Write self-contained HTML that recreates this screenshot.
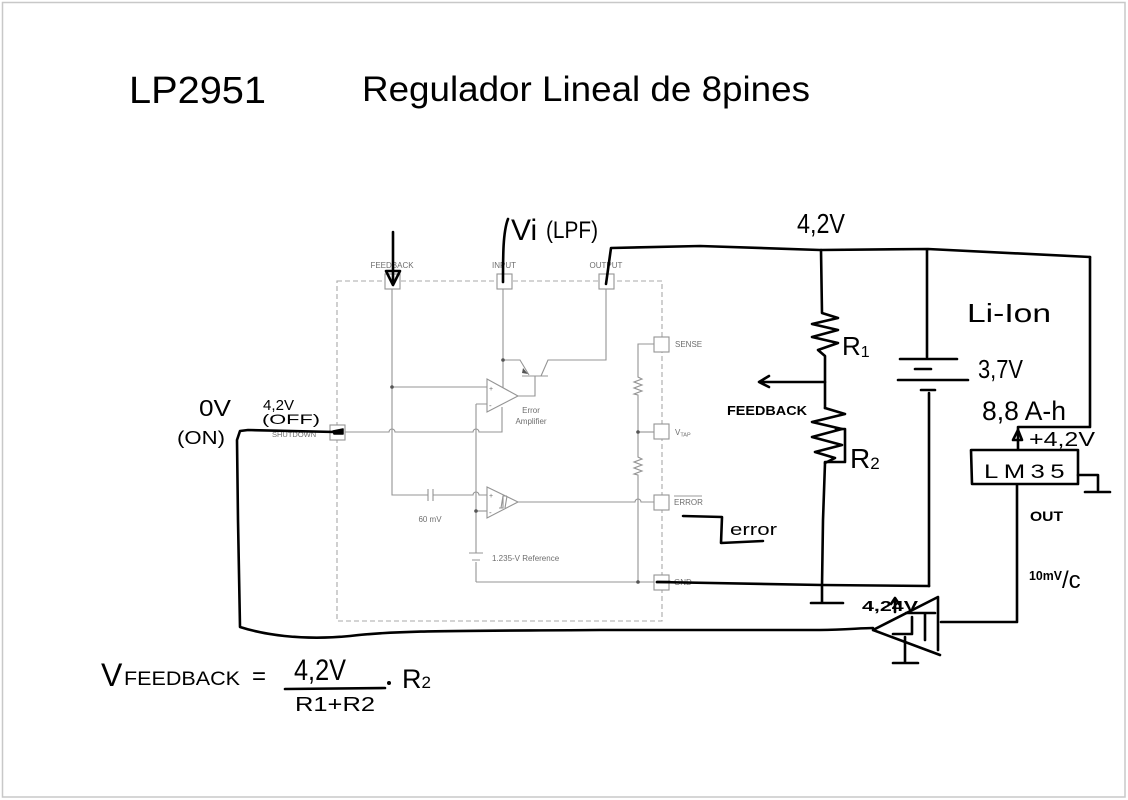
<!DOCTYPE html>
<html><head><meta charset="utf-8"><style>
html,body{margin:0;padding:0;background:#fff;}
svg{display:block;}
.g{fill:none;stroke:#949494;stroke-width:1.1;}
.gt{fill:#6e6e6e;font-family:"Liberation Sans",sans-serif;font-size:8px;}
.k{fill:none;stroke:#000;stroke-width:2.6;stroke-linecap:round;stroke-linejoin:round;}
.h{fill:#000;font-family:"Liberation Sans",sans-serif;}
</style></head><body>
<svg width="1128" height="800" viewBox="0 0 1128 800" xmlns="http://www.w3.org/2000/svg">
<rect x="0" y="0" width="1128" height="800" fill="#fff"/>
<rect x="2.5" y="2.5" width="1122.5" height="794.5" fill="none" stroke="#c8c8c8" stroke-width="1.5"/>

<!-- ===== gray schematic ===== -->
<rect x="337" y="281" width="325" height="340" fill="none" stroke="#a8a8a8" stroke-width="1.1" stroke-dasharray="5,3"/>
<g class="g">
  <path d="M392,289 V495 H428 M433,495 H473 a3,3 0 0 1 6,0 H487"/>
  <path d="M428,489 V501 M433,489 V501"/>
  <path d="M392,387 H487"/>
  <path d="M345,432 H389 a3,3 0 0 1 6,0 H473 a3,3 0 0 1 6,0 H502 V407"/>
  <path d="M503,289 V388"/>
  <path d="M503,360 H520 L529,375"/>
  <path d="M522,376 H548 M541,376 L548,360 H606 V289"/>
  <path d="M535,376 V396 H518"/>
  <path d="M487,379 L518,396 L487,412 Z"/>
  <path d="M476,404 H487 M476,404 V553 M476,562 V582"/>
  <path d="M469,553 H483 M472,560 H480"/>
  <path d="M476,511 H487"/>
  <path d="M487,487 L518,502 L487,518 Z"/>
  <path d="M499,508 H503 V496 H507 M501,508 L503,496 M505,508 L507,496"/>
  <path d="M518,502 H635 a3,3 0 0 1 6,0 H654"/>
  <path d="M654,344 H638 V377 l4,2 -8,3 8,3 -8,3 8,3 -8,3 4,1 V457 l4,2 -8,3 8,3 -8,3 8,3 -8,3 4,1 V582"/>
  <path d="M638,432 H654"/>
  <path d="M476,582 H654"/>
  <rect x="385" y="274" width="15" height="15" fill="#fff"/>
  <rect x="497" y="274" width="15" height="15" fill="#fff"/>
  <rect x="599" y="274" width="15" height="15" fill="#fff"/>
  <rect x="654" y="337" width="15" height="15" fill="#fff"/>
  <rect x="654" y="424" width="15" height="15" fill="#fff"/>
  <rect x="654" y="495" width="15" height="15" fill="#fff"/>
  <rect x="654" y="575" width="15" height="15" fill="#fff"/>
  <rect x="330" y="425" width="15" height="15" fill="#fff"/>
</g>
<g fill="#555">
  <circle cx="392" cy="387" r="1.8"/><circle cx="503" cy="360" r="1.8"/>
  <circle cx="476" cy="511" r="1.8"/><circle cx="638" cy="432" r="1.8"/>
  <circle cx="638" cy="582" r="1.8"/>
  <path d="M523,368 l5,6 -6,-1 z"/>
</g>
<g class="gt">
  <text x="392" y="268" text-anchor="middle">FEEDBACK</text>
  <text x="504" y="268" text-anchor="middle">INPUT</text>
  <text x="606" y="268" text-anchor="middle">OUTPUT</text>
  <text x="675" y="347">SENSE</text>
  <text x="675" y="435">V<tspan font-size="5.5" dy="1.5">TAP</tspan></text>
  <text x="674" y="505">ERROR</text>
  <text x="674" y="585">GND</text>
  <text x="272" y="437" font-size="7.5">SHUTDOWN</text>
  <text x="531" y="413" text-anchor="middle">Error</text>
  <text x="531" y="424" text-anchor="middle">Amplifier</text>
  <text x="430" y="522" text-anchor="middle">60 mV</text>
  <text x="492" y="561">1.235-V Reference</text>
  <text x="489" y="391" font-size="7">+</text>
  <text x="489" y="408" font-size="8">-</text>
  <text x="489" y="498" font-size="7">+</text>
  <text x="489" y="515" font-size="8">-</text>
</g>
<path d="M674,496 H702" stroke="#777" stroke-width="0.8"/>

<!-- ===== handwritten ===== -->
<text class="h" x="129" y="103" font-size="38" textLength="137" lengthAdjust="spacingAndGlyphs">LP2951</text>
<text class="h" x="362" y="101" font-size="35" textLength="448" lengthAdjust="spacingAndGlyphs">Regulador Lineal de 8pines</text>

<g class="k">
  <path d="M393,232 L393,283"/>
  <path d="M386,271 L400,271 L393,285 Z"/>
  <path d="M508,219 C503,232 503,255 503,282"/>
  <path d="M606,284 L611,248 L700,246 L820,250 L928,249 L1090,257"/>
  <path d="M821,250 L822,313 L838,318 L812,324 L838,330 L812,337 L838,343 L818,350 L825,356 L825,408"/>
  <path d="M825,382 L760,382 M769,376 L759,382 L769,387"/>
  <path d="M825,408 L845,414 L812,422 L842,429 L812,437 L842,445 L815,452 L835,458 L825,463"/>
  <path d="M836,429 H845 V462 H825"/>
  <path d="M825,463 L823,520 L822,586"/>
  <path d="M822,587 V603 M811,603 H843"/>
  <path d="M657,582 L822,585 L929,586"/>
  <path d="M927,250 V357 M900,359 H957 M915,369 H931 M898,380 H968 M921,390 H935 M929,393 V586"/>
  <path d="M1090,257 V427 H1018 V449"/>
  <path d="M1013,440 L1018,430 L1022,440 Z"/>
  <path d="M971,450 H1078 V484 H972 Z"/>
  <path d="M1078,475 H1098 V490 M1085,492 H1110"/>
  <path d="M1017,485 V622 H941"/>
  <path d="M873,630 L938,597 M873,630 L940,655 M938,597 V650"/>
  <path d="M906,613 H935 M925,613 V640 M912,617 V634 H893"/>
  <path d="M905,637 V663 M893,663 H918"/>
  <path d="M895,612 V600 M891,604 L895,598 L899,604"/>
  <path d="M873,628 C860,628 845,630 820,630 L600,630 C460,631 400,630 350,636 C300,641 262,634 240,627 L238,520 L237,440 L240,431 L248,430 L335,432"/>
  <path d="M333,431 L343,429 L343,434 L334,434 Z" fill="#000" stroke-width="1.5"/>
  <path d="M657,582 H670"/>
  <path d="M683,516 L722,517 L721,543 L763,541"/>
  <path d="M285,689 L385,688"/>
</g>
<g class="h">
  <text x="511" y="240" font-size="30">Vi</text>
  <text x="546" y="238" font-size="24" textLength="52" lengthAdjust="spacingAndGlyphs">(LPF)</text>
  <text x="797" y="233" font-size="28" textLength="48" lengthAdjust="spacingAndGlyphs">4,2V</text>
  <text x="842" y="355" font-size="26">R<tspan font-size="16" dy="2">1</tspan></text>
  <text x="850" y="468" font-size="28">R<tspan font-size="17" dy="1">2</tspan></text>
  <text x="967" y="322" font-size="26" textLength="84" lengthAdjust="spacingAndGlyphs">Li-Ion</text>
  <text x="978" y="378" font-size="26" textLength="45" lengthAdjust="spacingAndGlyphs">3,7V</text>
  <text x="982" y="420" font-size="27" textLength="84" lengthAdjust="spacingAndGlyphs">8,8 A-h</text>
  <text x="1029" y="446" font-size="20" textLength="66" lengthAdjust="spacingAndGlyphs">+4,2V</text>
  <text x="984" y="478" font-size="19" textLength="86" lengthAdjust="spacingAndGlyphs" letter-spacing="4">LM35</text>
  <text x="1030" y="521" font-size="14" font-weight="bold" textLength="33" lengthAdjust="spacingAndGlyphs">OUT</text>
  <text x="1029" y="580" font-size="13" font-weight="bold" textLength="33" lengthAdjust="spacingAndGlyphs">10mV</text>
  <text x="1062" y="588" font-size="24">/c</text>
  <text x="862" y="611" font-size="15" font-weight="bold" textLength="56" lengthAdjust="spacingAndGlyphs">4,24V</text>
  <text x="727" y="415" font-size="13" font-weight="bold" textLength="80" lengthAdjust="spacingAndGlyphs">FEEDBACK</text>
  <text x="730" y="535" font-size="17" textLength="47" lengthAdjust="spacingAndGlyphs">error</text>
  <text x="199" y="416" font-size="23" textLength="32" lengthAdjust="spacingAndGlyphs">0V</text>
  <text x="177" y="444" font-size="18" textLength="48" lengthAdjust="spacingAndGlyphs">(ON)</text>
  <text x="263" y="410" font-size="15" textLength="31" lengthAdjust="spacingAndGlyphs">4,2V</text>
  <text x="262" y="424" font-size="14" textLength="58" lengthAdjust="spacingAndGlyphs">(OFF)</text>
  <text x="101" y="686" font-size="32">V</text>
  <text x="124" y="685" font-size="19" textLength="116" lengthAdjust="spacingAndGlyphs">FEEDBACK</text>
  <text x="252" y="684" font-size="24">=</text>
  <text x="294" y="680" font-size="30" textLength="52" lengthAdjust="spacingAndGlyphs">4,2V</text>
  <text x="295" y="711" font-size="20" textLength="80" lengthAdjust="spacingAndGlyphs">R1+R2</text>
  <circle cx="389" cy="683" r="2"/>
  <text x="402" y="688" font-size="27">R<tspan font-size="17" dy="0">2</tspan></text>
</g>
</svg>
</body></html>
